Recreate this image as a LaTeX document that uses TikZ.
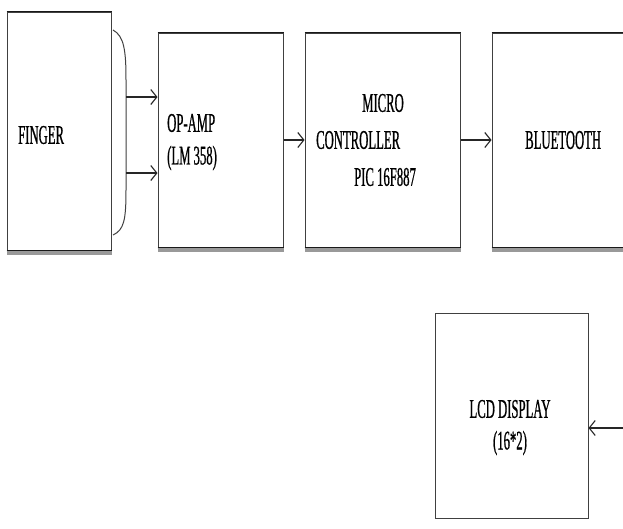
\documentclass[tikz,border=0pt]{standalone}
\usepackage{fontspec}
\setmainfont{Liberation Serif}[FakeStretch=0.47,FakeBold=0.6]
\usetikzlibrary{arrows.meta}
\begin{document}
\begin{tikzpicture}[x=1pt,y=-1pt,
  blk/.style={draw=black!75,line width=1pt,rectangle,inner sep=0pt},
  shd/.style={draw=black!40,line width=3.5pt},
  bot/.style={draw=black!90,line width=1.8pt},
  lbl/.style={font=\fontsize{27}{30}\selectfont,inner sep=0pt},
  arr/.style={draw=black!85,line width=1.3pt,-{Straight Barb[length=6pt,width=15pt,line width=1.1pt]}}]
\clip (0,0) rectangle (623,528);
\fill[white] (0,0) rectangle (623,528);
% boxes
\node[blk,minimum width=104pt,minimum height=238pt] (fin) at (59,131) {};
\node[blk,minimum width=125pt,minimum height=214pt] (op) at (220.5,140) {};
\node[blk,minimum width=155pt,minimum height=214pt] (mc) at (382.5,140) {};
\node[blk,minimum width=150pt,minimum height=214pt] (bt) at (567,140) {};
\node[blk,minimum width=153pt,minimum height=205pt] (lcd) at (511.5,415.5) {};
% bottom edges with shadow
\foreach \b in {fin,op,mc,bt}{
  \draw[shd] ([yshift=-2.6pt]\b.south west) -- ([yshift=-2.6pt]\b.south east);
  \draw[bot] (\b.south west) -- (\b.south east);
  \draw[bot] (\b.north west) -- (\b.north east);
}
% labels
\node[lbl,anchor=west] (tfin) at (18,135) {FINGER};
\node[lbl,anchor=west] (top1) at (167,123) {OP-AMP};
\node[lbl,anchor=west] (top2) at (167,158) {(LM 358)};
\node[lbl] (tmc1) at (383,103) {MICRO};
\node[lbl,anchor=west] (tmc2) at (316,140) {CONTROLLER};
\node[lbl,anchor=west] (tmc3) at (354,177) {PIC 16F887};
\node[lbl,anchor=west] (tbt) at (525,140) {BLUETOOTH};
\node[lbl] (tlcd1) at (510,409) {LCD DISPLAY};
\node[lbl] (tlcd2) at (510,443) {(16*2)};
% brace
\coordinate (bt0) at (113,30);
\coordinate (bb0) at (113,235);
\coordinate (b1) at (126,97);
\coordinate (b2) at (126,173);
\draw[black!75,line width=1pt] (bt0) .. controls (124,36) and (126,50) .. (126,80)
  -- (126,190) .. controls (126,220) and (124,230) .. (bb0);
% arrows
\draw[arr] (b1) -- (op.west |- b1);
\draw[arr] (b2) -- (op.west |- b2);
\draw[arr] (op.east) -- (mc.west);
\draw[arr] (mc.east) -- (bt.west);
\coordinate (rin) at (626,428);
\draw[arr] (rin) -- (lcd.east |- rin);
\end{tikzpicture}
\end{document}
